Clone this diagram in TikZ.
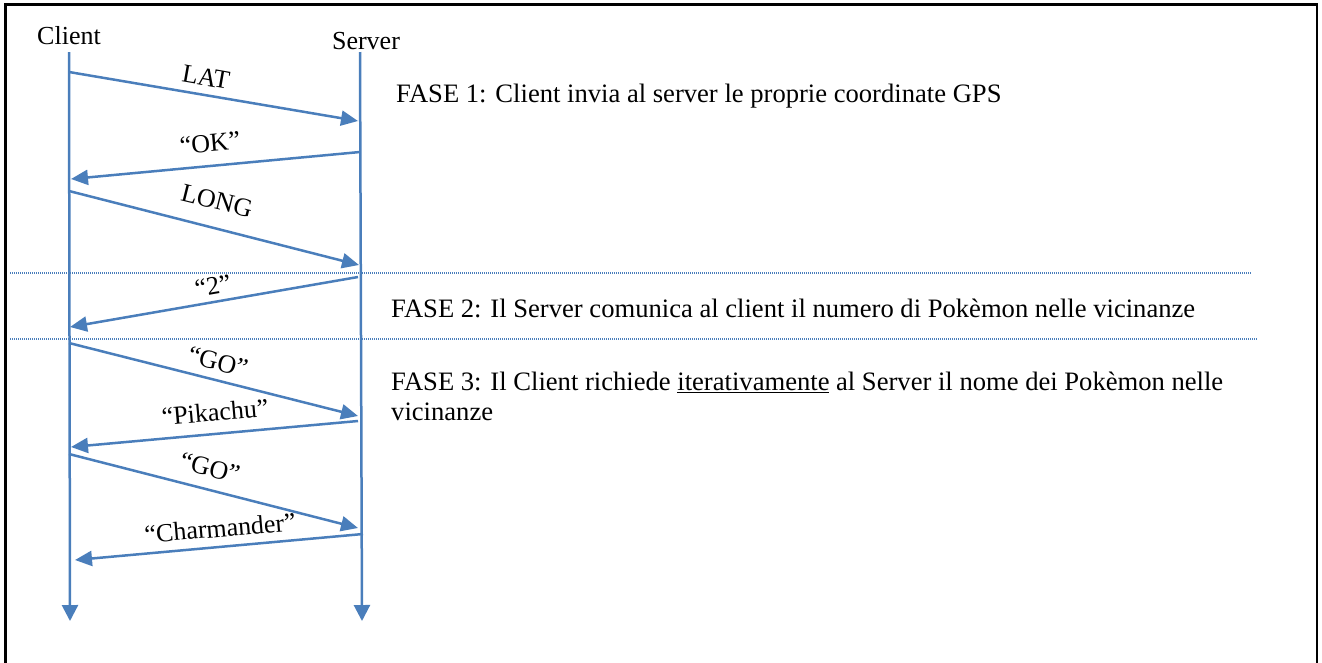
\documentclass[tikz,border=0pt]{standalone}
\usepackage{fontspec}
\setmainfont{Liberation Serif}
\usetikzlibrary{arrows.meta}
\definecolor{msgblue}{HTML}{4A7EBB}
\begin{document}
\begin{tikzpicture}[x=1pt,y=-1pt,
  msg/.style={draw=msgblue, line width=2.5pt, -{Triangle[length=17pt,width=15pt]}},
  life/.style={draw=msgblue, line width=2.5pt, -{Triangle[length=16pt,width=16pt]}},
  lbl/.style={font=\fontsize{26}{30}\selectfont, inner sep=0pt},
  phase/.style={font=\fontsize{26.6}{30}\selectfont, inner sep=0pt, align=left},
  sepline/.style={draw=msgblue, line width=1.2pt, dash pattern=on 1pt off 1pt}]
\useasboundingbox (0,0) rectangle (1322,662);
% frame
\draw[line width=2.2pt] (5.5,700) -- (5.5,4.5) -- (1317,4.5) -- (1317,700);

% lifeline headers
\node[lbl, anchor=base] (client) at (69,44) {Client};
\node[lbl, anchor=base] (server) at (366,49) {Server};

% lifelines
\coordinate (ctop) at (69,52);
\coordinate (cbot) at (70,621);
\coordinate (stop) at (360,52);
\coordinate (sbot) at (362,621);
\draw[life] (ctop) -- (cbot);
\draw[life] (stop) -- (sbot);

% phase separators
\coordinate (d1a) at (10,273);
\coordinate (d1b) at (1252,273);
\coordinate (d2a) at (10,339);
\coordinate (d2b) at (1257,339);
\draw[sepline] (d1a) -- (d1b);
\draw[sepline] (d2a) -- (d2b);

% message end points
\coordinate (c1) at (69,72);   \coordinate (s1) at (358,121);
\coordinate (s2) at (360,152); \coordinate (c2) at (71,179);
\coordinate (c3) at (69,191);  \coordinate (s3) at (359,265);
\coordinate (s4) at (358,277); \coordinate (c4) at (70,327);
\coordinate (c5) at (69,343);  \coordinate (s5) at (358,416);
\coordinate (s6) at (358,421); \coordinate (c6) at (71,447);
\coordinate (c7) at (69,454);  \coordinate (s7) at (358,528);
\coordinate (s8) at (363,534); \coordinate (c8) at (75,560);

\draw[msg] (c1) -- (s1);
\draw[msg] (s2) -- (c2);
\draw[msg] (c3) -- (s3);
\draw[msg] (s4) -- (c4);
\draw[msg] (c5) -- (s5);
\draw[msg] (s6) -- (c6);
\draw[msg] (c7) -- (s7);
\draw[msg] (s8) -- (c8);

% message labels
\node[lbl, rotate=-10] (l1) at (206,77) {LAT};
\node[lbl, rotate=5]   (l2) at (210,143) {“OK”};
\node[lbl, rotate=-14] (l3) at (217,201) {LONG};
\node[lbl, rotate=10]  (l4) at (213,286) {“2”};
\node[lbl, rotate=-14] (l5) at (218,362) {“GO”};
\node[lbl, rotate=5]   (l6) at (215,412) {“Pikachu”};
\node[lbl, rotate=-14] (l7) at (210,468) {“GO”};
\node[lbl, rotate=5]   (l8) at (220,528) {“Charmander”};

% phase descriptions
\node[phase, anchor=base west] (f1) at (396,102) {FASE 1: Client invia al server le proprie coordinate GPS};
\node[phase, anchor=base west] (f2) at (391,317) {FASE 2: Il Server comunica al client il numero di Pokèmon nelle vicinanze};
\node[phase, anchor=north west] (f3) at (391,372) {FASE 3: Il Client richiede \underline{iterativamente} al Server il nome dei Pokèmon nelle\\vicinanze};
\end{tikzpicture}
\end{document}
